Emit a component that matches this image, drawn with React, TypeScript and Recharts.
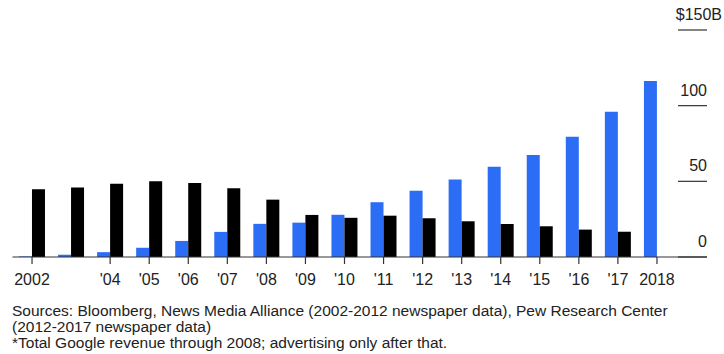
import React from "react";
import { BarChart, Bar, XAxis, YAxis } from "recharts";

const years = ["2002","2003","2004","2005","2006","2007","2008","2009","2010","2011","2012","2013","2014","2015","2016","2017","2018"];
const yearLabels = ["2002","","'04","'05","'06","'07","'08","'09","'10","'11","'12","'13","'14","'15","'16","'17","2018"];
const google = [0.4, 1.5, 3.2, 6.1, 10.6, 16.6, 21.9, 22.7, 27.9, 36.2, 43.7, 51.2, 59.7, 67.4, 79.5, 96.0, 116.3];
const newspapers = [44.7, 46.0, 48.4, 50.0, 48.9, 45.4, 37.9, 27.8, 25.9, 27.3, 25.6, 23.6, 21.8, 20.3, 18.1, 16.7, null];
const yTicks = [0, 50, 100, 150];
const footerLines = [
  "Sources: Bloomberg, News Media Alliance (2002-2012 newspaper data), Pew Research Center",
  "(2012-2017 newspaper data)",
  "*Total Google revenue through 2008; advertising only after that.",
];

const data = years.map((y, i) => ({ year: y, label: yearLabels[i], google: google[i], papers: newspapers[i] }));

const FONT = "'Liberation Sans', Arial, Helvetica, sans-serif";

const XTick = (props: any) => {
  const { x, y, index } = props;
  const label = yearLabels[index];
  if (!label) return null;
  return (
    <g>
      <line x1={x} x2={x} y1={y} y2={y + 7} stroke="#333" strokeWidth={1.2} />
      <text x={x} y={y + 28} textAnchor="middle" fontSize={16} fill="#222" fontFamily={FONT}>
        {label}
      </text>
    </g>
  );
};

const YTick = (props: any) => {
  const { x, y, payload } = props;
  const v = payload.value;
  return (
    <g>
      <line x1={x - 29} x2={x} y1={y} y2={y} stroke="#333" strokeWidth={1.2} />
      {v === 150 ? (
        <text x={x + 15} y={y - 10} textAnchor="end" fontSize={16} fill="#222" fontFamily={FONT}>
          ${v}B
        </text>
      ) : (
        <text x={x} y={y - 10} textAnchor="end" fontSize={16} fill="#222" fontFamily={FONT}>
          {v}
        </text>
      )}
    </g>
  );
};

export default function App() {
  return (
    <div style={{ position: "absolute", left: 0, top: 0, width: 724, height: 354, background: "#fff" }}>
      <BarChart
        width={724}
        height={300}
        data={data}
        margin={{ top: 30, right: 0, bottom: 13, left: 12.5 }}
        barCategoryGap="16.6%"
        barGap={0}
      >
        <XAxis
          dataKey="year"
          interval={0}
          tick={<XTick />}
          tickLine={false}
          tickSize={0}
          tickMargin={0}
          height={30}
          padding={{ left: 0, right: 30.5 }}
          axisLine={{ stroke: "#333", strokeWidth: 1.2 }}
        />
        <YAxis
          orientation="right"
          domain={[0, 150]}
          ticks={yTicks}
          interval={0}
          width={17}
          axisLine={false}
          tickLine={false}
          tickSize={0}
          tickMargin={0}
          tick={<YTick />}
        />
        <Bar dataKey="google" fill="#2b6ef5" isAnimationActive={false} />
        <Bar dataKey="papers" fill="#000000" isAnimationActive={false} />
      </BarChart>
      {footerLines.map((t, i) => (
        <div
          key={i}
          style={{
            position: "absolute",
            left: 12,
            top: 302.5 + i * 16,
            fontFamily: FONT,
            fontSize: 15.5,
            lineHeight: "16px",
            color: "#222",
            whiteSpace: "nowrap",
          }}
        >
          {t}
        </div>
      ))}
    </div>
  );
}
